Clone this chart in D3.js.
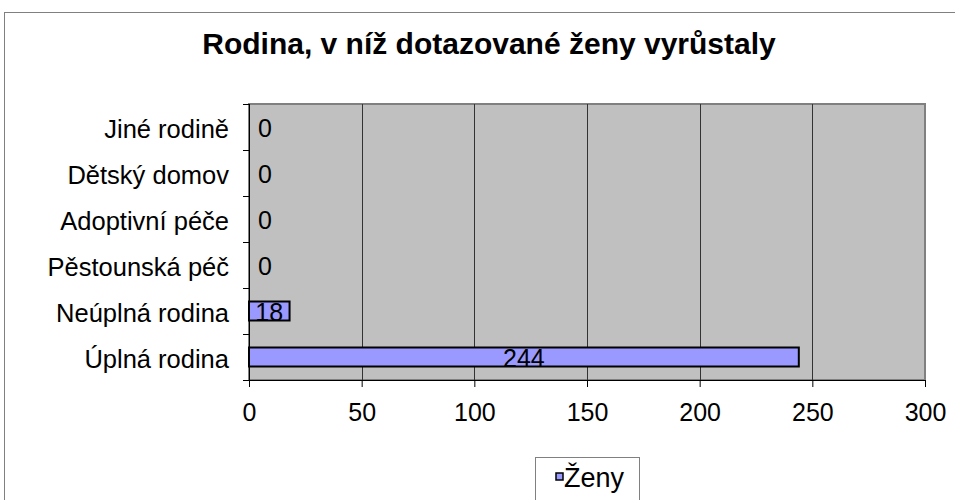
<!DOCTYPE html>
<html>
<head>
<meta charset="utf-8">
<script src="https://cdn.jsdelivr.net/npm/d3@7"></script>
<style>
  body { margin: 0; background: #fff; }
  svg text { font-family: "Liberation Sans", Arial, sans-serif; fill: #000; }
</style>
</head>
<body>
<svg id="chart" width="955" height="500"></svg>
<script>
// data
var categories = ["Úplná rodina", "Neúplná rodina", "Pěstounská péč", "Adoptivní péče", "Dětský domov", "Jiné rodině"];
var values = [244, 18, 0, 0, 0, 0];
var xTicks = [0, 50, 100, 150, 200, 250, 300];
var seriesName = "Ženy";
var title = "Rodina, v níž dotazované ženy vyrůstaly";

var svg = d3.select("#chart"),
    margin = {top: 104, right: 30, bottom: 120, left: 249},
    width = 925 - margin.left,
    height = 380 - margin.top;

// outer chart frame
svg.append("rect")
    .attr("x", 4.5).attr("y", 12.5)
    .attr("width", 960).attr("height", 500)
    .attr("fill", "#fff")
    .attr("stroke", "#808080");

svg.append("text")
    .attr("x", 489).attr("y", 54)
    .attr("text-anchor", "middle")
    .style("font-size", "30px")
    .style("font-weight", "bold")
    .text(title);

var g = svg.append("g").attr("transform", "translate(" + margin.left + "," + margin.top + ")");

var x = d3.scaleLinear().domain([0, 300]).range([0, width]);
var y = d3.scaleBand().domain(categories).range([height, 0]);

g.append("rect")
    .attr("width", width).attr("height", height)
    .attr("fill", "#c0c0c0")
    .attr("stroke", "#808080")
    .attr("stroke-width", 2);

// gridlines
g.selectAll(".grid")
    .data(xTicks.slice(1, -1))
    .enter().append("line")
    .attr("x1", function(d){ return Math.round(x(d)) + 0.5; })
    .attr("x2", function(d){ return Math.round(x(d)) + 0.5; })
    .attr("y1", 0).attr("y2", height)
    .attr("stroke", "#333");

// bars
var bh = 19;
g.selectAll(".bar")
    .data(values)
    .enter().append("rect")
    .attr("class", "bar")
    .attr("x", 0)
    .attr("y", function(d, i){ return y(categories[i]) + y.bandwidth()/2 - bh/2; })
    .attr("width", function(d){ return x(d); })
    .attr("height", bh)
    .attr("fill", "#9999ff")
    .attr("stroke", "#000")
    .attr("stroke-width", 2)
    .style("display", function(d){ return d > 0 ? null : "none"; });

// value labels
g.selectAll(".lbl")
    .data(values)
    .enter().append("text")
    .attr("x", function(d){ return d > 0 ? x(d) / 2 : 16; })
    .attr("y", function(d, i){ return y(categories[i]) + y.bandwidth()/2; })
    .attr("dy", "0.38em")
    .attr("text-anchor", "middle")
    .style("font-size", "25px")
    .text(function(d){ return d; });

// x axis
var xAxis = g.append("g")
    .attr("transform", "translate(0," + height + ")")
    .call(d3.axisBottom(x).tickValues(xTicks).tickSize(7).tickSizeOuter(0));
xAxis.select(".domain").attr("stroke", "#000");
xAxis.selectAll("text")
    .style("font-size", "25px")
    .style("font-family", "'Liberation Sans', Arial, sans-serif")
    .attr("y", 41).attr("dy", null);

// y axis, ticks at band boundaries
var yAxis = g.append("g");
yAxis.append("line")
    .attr("x1", 0.5).attr("x2", 0.5).attr("y1", 0).attr("y2", height)
    .attr("stroke", "#000");
yAxis.selectAll(".ytick")
    .data(d3.range(categories.length + 1))
    .enter().append("line")
    .attr("x1", -6).attr("x2", 0)
    .attr("y1", function(i){ return Math.round(height - i * y.step()) + 0.5; })
    .attr("y2", function(i){ return Math.round(height - i * y.step()) + 0.5; })
    .attr("stroke", "#000");
yAxis.selectAll(".ylab")
    .data(categories)
    .enter().append("text")
    .attr("x", -20)
    .attr("y", function(d){ return y(d) + y.bandwidth()/2; })
    .attr("dy", "0.42em")
    .attr("text-anchor", "end")
    .style("font-size", "25.5px")
    .text(function(d){ return d; });

// legend
var lg = svg.append("g");
lg.append("rect")
    .attr("x", 535.5).attr("y", 457.5)
    .attr("width", 104).attr("height", 60)
    .attr("fill", "#fff").attr("stroke", "#808080");
lg.append("rect")
    .attr("x", 556).attr("y", 473)
    .attr("width", 7).attr("height", 7)
    .attr("fill", "#9999ff").attr("stroke", "#000").attr("stroke-width", 1.5);
lg.append("text")
    .attr("x", 564).attr("y", 487)
    .style("font-size", "27px")
    .text(seriesName);
</script>
</body>
</html>
